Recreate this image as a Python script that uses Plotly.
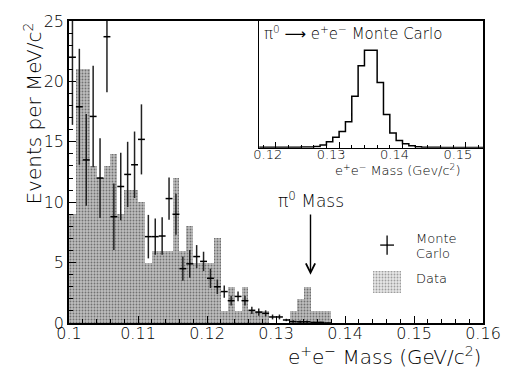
import plotly.graph_objects as go

# ---------------- data ----------------
bin_width = 0.001
main_start = 0.100
# Data histogram: events per MeV/c^2 (1 MeV bins from 0.100)
data_counts = [9, 21, 21, 13, 12, 13, 14, 9, 11, 11,
               10, 5, 6, 6, 6, 12, 6, 8, 5, 5,
               5, 7, 1, 3, 1, 3, 1, 1, 1, 0,
               0, 0, 1, 2, 3, 1, 1, 1]
# Monte Carlo points (crosses) and their errors
mc_values = [22.0, 17.9, 13.5, 17.1, 12.0, 23.7, 8.8, 11.3, 12.3, 13.1,
             15.2, 7.15, 7.15, 7.2, 10.3, 9.0, 4.5, 4.9, 5.5, 5.1,
             3.7, 3.0, 2.6, 1.85, 2.2, 1.85, 1.05, 0.9, 0.8, 0.5,
             0.5, 0.25, 0.12, 0.1, 0.1, 0.05, 0.05, 0.0]
mc_errors = [5.6, 4.8, 3.8, 4.2, 3.3, 4.6, 2.75, 2.8, 2.7, 2.75,
             2.9, 1.8, 1.5, 1.55, 1.75, 1.7, 1.0, 1.15, 0.95, 0.8,
             0.8, 0.6, 0.5, 0.4, 0.4, 0.4, 0.3, 0.3, 0.25, 0.2,
             0.2, 0.1, 0.1, 0.1, 0.1, 0.05, 0.05, 0.0]
# Inset: pi0 -> e+e- Monte Carlo (arbitrary units), 1 MeV bins from 0.117
inset_start = 0.117
inset_values = [0.3, 0.3, 0.3, 0.3, 0.5, 0.5, 0.5, 0.7, 0.7, 1.2,
                2.7, 6.0, 10.7, 16.7, 26.7, 52.7, 84.0, 100.0, 100.0, 67.0,
                34.0, 15.0, 7.3, 4.0, 2.0, 1.0, 0.5, 0.3, 0.3, 0.2,
                0.2, 0.2, 0.2, 0.2, 0.2, 0.2]

main_xrange = [0.100, 0.160]
main_yrange = [0, 25]
inset_xrange = [0.1174, 0.1527]
inset_yrange = [0, 130]

FONT = "DejaVu Sans ExtraLight, DejaVu Sans Light, DejaVu Sans"

centers = [main_start + bin_width * (i + 0.5) for i in range(len(data_counts))]
mc_centers = [main_start + bin_width * (i + 0.5) for i in range(len(mc_values))]

fig = go.Figure()

stipple = dict(shape=".", fgcolor="#262626", bgcolor="#bdbdbd", size=3, solidity=0.3)

fig.add_trace(go.Bar(
    x=centers, y=data_counts, width=bin_width,
    marker=dict(color="#bdbdbd", line=dict(width=0), pattern=stipple),
    xaxis="x", yaxis="y", showlegend=False))

fig.add_trace(go.Scatter(
    x=mc_centers, y=mc_values, mode="markers",
    marker=dict(size=1, color="black"),
    error_x=dict(type="constant", value=bin_width / 2, width=0, thickness=1.5, color="black"),
    error_y=dict(type="data", array=mc_errors, width=0, thickness=1.5, color="#222"),
    xaxis="x", yaxis="y", showlegend=False))

# legend symbols
leg_x = 0.1461
fig.add_trace(go.Scatter(
    x=[leg_x], y=[6.45], mode="markers", marker=dict(size=1, color="black"),
    error_x=dict(type="constant", value=0.001, width=0, thickness=1.3, color="black"),
    error_y=dict(type="constant", value=0.8, width=0, thickness=1.3, color="black"),
    xaxis="x", yaxis="y", showlegend=False))
fig.add_trace(go.Bar(
    x=[leg_x], y=[1.8], base=[2.5], width=0.004,
    marker=dict(color="#e6e6e6", line=dict(width=0),
                pattern=dict(shape=".", fgcolor="#555", bgcolor="#e6e6e6", size=3, solidity=0.3)),
    xaxis="x", yaxis="y", showlegend=False))

# inset step histogram
inset_edges = [inset_start + bin_width * i for i in range(len(inset_values) + 1)]
fig.add_trace(go.Scatter(
    x=inset_edges, y=inset_values + [inset_values[-1]],
    mode="lines", line=dict(shape="hv", color="black", width=1.5),
    xaxis="x2", yaxis="y2", showlegend=False))

axis_common = dict(showline=True, linecolor="black", linewidth=1.5, mirror=True,
                   showgrid=False, zeroline=False, ticks="inside", tickcolor="black",
                   tickfont=dict(family=FONT, size=16, color="black"))

fig.update_layout(
    width=513, height=370,
    margin=dict(l=69, r=24, t=13, b=47),
    paper_bgcolor="white", plot_bgcolor="white",
    barmode="overlay", bargap=0,
    font=dict(family=FONT, color="black"),
    xaxis=dict(range=main_xrange, dtick=0.01, tick0=0.1, ticklen=7, tickwidth=1.2,
               ticklabelstandoff=-5,
               minor=dict(dtick=0.002, ticklen=4, ticks="inside", tickcolor="black"),
               **axis_common),
    yaxis=dict(range=main_yrange, dtick=5, tick0=0, ticklen=7, tickwidth=1.2,
               minor=dict(dtick=1, ticklen=4, ticks="inside", tickcolor="black"),
               **axis_common),
    xaxis2=dict(domain=[0.4595, 1.0], anchor="y2", range=inset_xrange, dtick=0.01, tick0=0.12,
                showline=True, linecolor="black", linewidth=1.3, mirror=True,
                showgrid=False, zeroline=False, ticks="inside", ticklen=6, tickcolor="black",
                minor=dict(dtick=0.002, ticklen=3, ticks="inside", tickcolor="black"),
                ticklabelshift=-8, ticklabelstandoff=-5,
                tickfont=dict(family=FONT, size=13, color="black")),
    yaxis2=dict(domain=[0.5806, 1.0], anchor="x2", range=inset_yrange,
                showline=True, linecolor="black", linewidth=1.3, mirror=True,
                showgrid=False, zeroline=False, showticklabels=False, ticks=""),
)

ann = []
# axis titles
ann.append(dict(text="e<sup>+</sup>e<sup>−</sup> Mass (GeV/c<sup>2</sup>)", xref="paper", yref="paper",
                x=1.0, y=-0.06, xanchor="right", yanchor="top", showarrow=False,
                font=dict(family=FONT, size=20, color="black")))
ann.append(dict(text="Events per MeV/c<sup>2</sup>", xref="paper", yref="paper",
                x=-0.088, y=1.0, xanchor="center", yanchor="top", textangle=-90, showarrow=False,
                font=dict(family=FONT, size=20, color="black")))
# inset texts
ann.append(dict(text="π<sup>0</sup> ⟶ e<sup>+</sup>e<sup>−</sup> Monte Carlo", xref="x2", yref="y2",
                x=0.1178, y=118, xanchor="left", yanchor="middle", showarrow=False,
                font=dict(family=FONT, size=15, color="black")))
ann.append(dict(text="e<sup>+</sup>e<sup>−</sup> Mass (Gev/c<sup>2</sup>)", xref="paper", yref="paper",
                x=0.95, y=0.505, xanchor="right", yanchor="middle", showarrow=False,
                font=dict(family=FONT, size=13, color="black")))
# pi0 mass marker
ann.append(dict(text="", x=0.135, y=4.0, ax=0.135, ay=9.1, xref="x", yref="y", axref="x", ayref="y",
                showarrow=True, arrowhead=5, arrowsize=1.3, arrowwidth=1.4, arrowcolor="black"))
ann.append(dict(text="π<sup>0</sup> Mass", x=0.1351, y=10.2, xref="x", yref="y", xanchor="center",
                yanchor="middle", showarrow=False, font=dict(family=FONT, size=17, color="black")))
# legend texts
ann.append(dict(text="Monte", x=0.1500, y=7.0, xref="x", yref="y", xanchor="left", yanchor="middle",
                showarrow=False, font=dict(family=FONT, size=13, color="black")))
ann.append(dict(text="Carlo", x=0.1500, y=5.75, xref="x", yref="y", xanchor="left", yanchor="middle",
                showarrow=False, font=dict(family=FONT, size=13, color="black")))
ann.append(dict(text="Data", x=0.1500, y=3.7, xref="x", yref="y", xanchor="left", yanchor="middle",
                showarrow=False, font=dict(family=FONT, size=13, color="black")))
fig.update_layout(annotations=ann)

fig.write_html("out.html")
